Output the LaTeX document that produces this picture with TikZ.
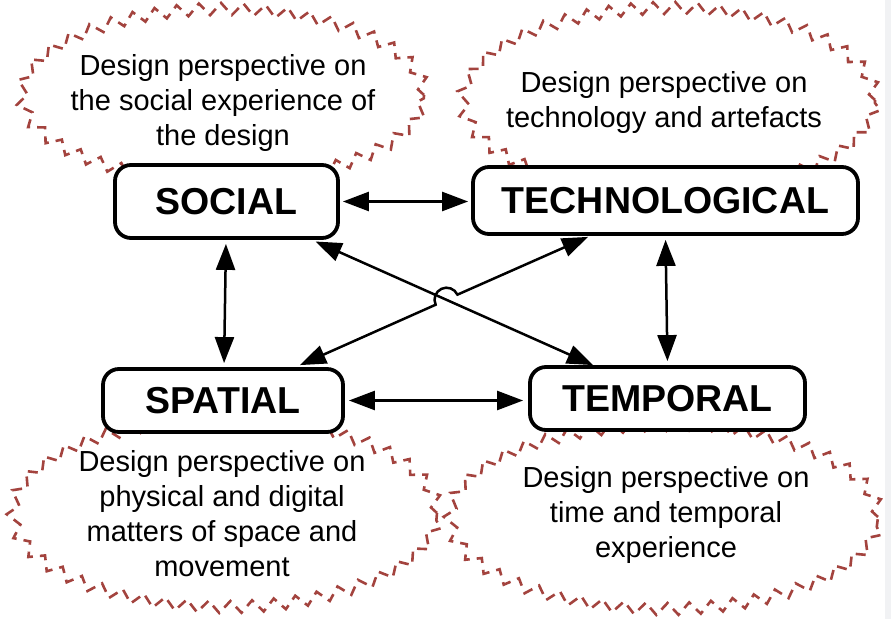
\documentclass[tikz,border=0pt]{standalone}
\usepackage{fontspec}
\setmainfont{Liberation Sans}
\usetikzlibrary{arrows.meta,decorations.pathmorphing,calc}
\definecolor{dashred}{HTML}{A3433E}
\definecolor{edgegrey}{HTML}{F1F2F4}
\begin{document}
\begin{tikzpicture}[x=1pt,y=1pt,
  cloud/.style={draw=dashred, line width=2.6pt, dash pattern=on 10pt off 7pt,
    decorate, decoration={zigzag, segment length=22pt, amplitude=6pt}},
  box/.style={draw, line width=3.8pt, rounded corners=16pt, fill=white, inner sep=0pt,
    font=\fontsize{37.5}{40}\selectfont\bfseries},
  desc/.style={align=center, font=\fontsize{29}{35}\selectfont, inner sep=0pt},
  arr/.style={line width=2.5pt, {Triangle[length=26pt,width=19pt]}-{Triangle[length=26pt,width=19pt]}}]
\useasboundingbox (0,0) rectangle (891,619);
\fill[edgegrey] (885,0) rectangle (891,619);

% dashed clouds
\draw[cloud] (223,524) ellipse [x radius=201, y radius=86];
\draw[cloud] (669,519) ellipse [x radius=206, y radius=92];
\draw[cloud] (225,106) ellipse [x radius=212, y radius=94];
\draw[cloud] (664,102) ellipse [x radius=214, y radius=92];

% descriptions
\node[desc] (dsocial) at (223,515.5) {Design perspective on\\the social experience of\\the design};
\node[desc] (dtech) at (664,516) {Design perspective on\\technology and artefacts};
\node[desc] (dspatial) at (222,105) {Design perspective on\\physical and digital\\matters of space and\\movement};
\node[desc] (dtemporal) at (666,104.5) {Design perspective on\\time and temporal\\experience};

% boxes
\node[box, minimum width=223pt, minimum height=73pt] (social) at (226.5,417.5) {SOCIAL};
\node[box, minimum width=385pt, minimum height=67pt] (tech) at (665.5,418.5) {TECHNOLOGICAL};
\node[box, minimum width=240pt, minimum height=63pt] (spatial) at (223,218.5) {SPATIAL};
\node[box, minimum width=275pt, minimum height=63pt] (temporal) at (667.5,220.5) {TEMPORAL};

% straight connectors
\draw[arr, shorten <=3pt, shorten >=3pt] (social.east) -- (tech.west |- social.east);
\draw[arr, shorten <=4pt, shorten >=5pt] (spatial.east) -- (temporal.west |- spatial.east);
\draw[arr, shorten <=4pt, shorten >=4pt] ([xshift=-0.5pt]social.south) -- ([xshift=1pt]spatial.north);
\draw[arr, shorten <=4pt, shorten >=4pt] (tech.south) -- (temporal.north);

% diagonal connectors
\coordinate (st1) at ([xshift=85.5pt]social.south);
\coordinate (st2) at ([xshift=-74.5pt]temporal.north);
\coordinate (ts1) at ([xshift=77pt,yshift=2pt]spatial.north);
\coordinate (ts2) at ([xshift=-77.5pt,yshift=-1pt]tech.south);
\coordinate (cross) at (intersection of st1--st2 and ts1--ts2);
\coordinate (hopa) at ($(cross)!12pt!(ts1)$);
\coordinate (hopb) at ($(cross)!12pt!(ts2)$);

\draw[arr, shorten <=4pt] (st1) -- (st2);
\draw[arr] (ts1) -- (hopa) arc[start angle=204.8, end angle=24.8, radius=12pt] -- (ts2);
\end{tikzpicture}
\end{document}
